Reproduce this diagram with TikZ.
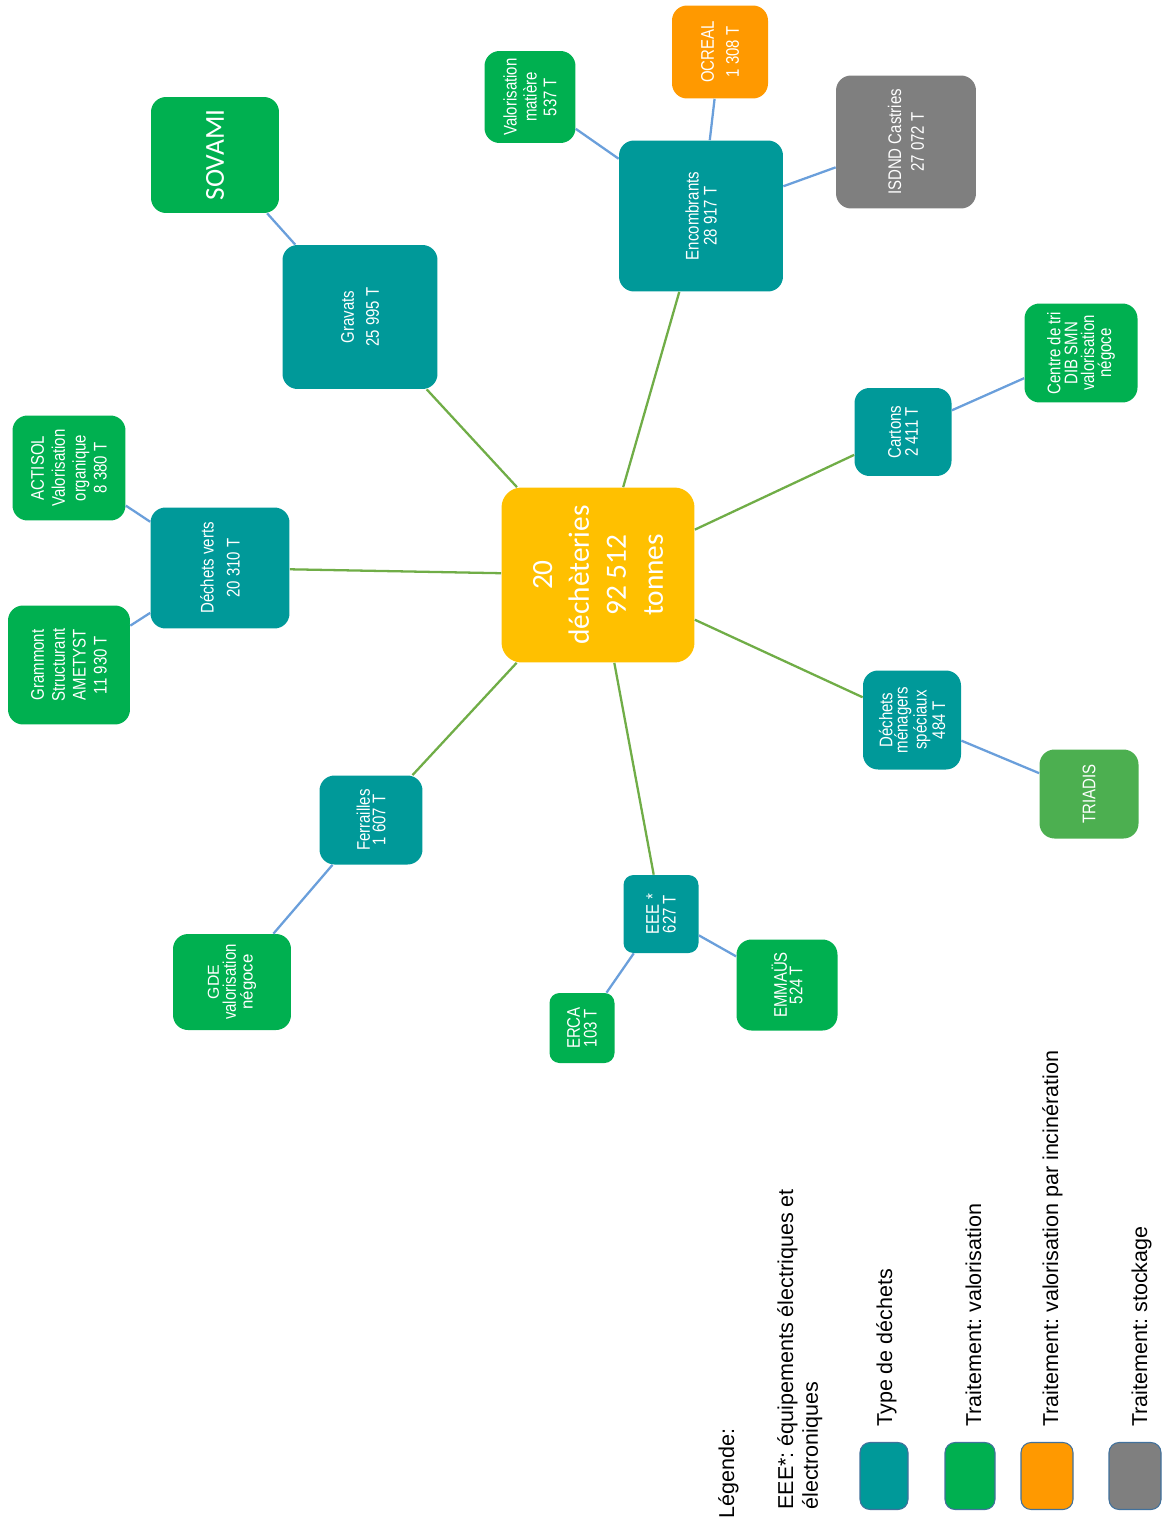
\documentclass[tikz,border=0pt]{standalone}
\usepackage{fontspec}
\setmainfont{Liberation Sans}
\newfontfamily\narrowfont[FakeStretch=0.82]{Liberation Sans}
\newfontfamily\calfont{Carlito}
\frenchspacing
\definecolor{typcol}{HTML}{009999}
\definecolor{valcol}{HTML}{00B050}
\definecolor{inccol}{HTML}{FF9900}
\definecolor{stocol}{HTML}{7F7F7F}
\definecolor{hubcol}{HTML}{FFC000}
\definecolor{tricol}{HTML}{4CAF50}
\definecolor{lienvert}{HTML}{70AD47}
\definecolor{lienbleu}{HTML}{6A9FDB}
\definecolor{bord}{HTML}{41719C}

\begin{document}
\begin{tikzpicture}[x=0.02cm, y=-0.02cm,
    every node/.style={rotate=90, text=white, align=center, inner sep=0pt},
    lsp/.style={font=\narrowfont\fontsize{10.4}{#1}\selectfont},
    typ/.style={fill=typcol, rounded corners=0.3cm, lsp=9.6},
    valo/.style={fill=valcol, rounded corners=0.3cm, lsp=9.6},
    incin/.style={fill=inccol, rounded corners=0.3cm, lsp=9.6},
    stock/.style={fill=stocol, rounded corners=0.3cm, lsp=9.6},
    vert/.style={draw=lienvert, line width=1.3pt},
    bleu/.style={draw=lienbleu, line width=1.3pt},
    carre/.style={draw=bord, line width=0.6pt, rounded corners=0.2cm, minimum width=1.34cm},
    leg/.style={text=black, font=\fontsize{12.25}{14}\selectfont, anchor=base west}]
    \useasboundingbox (0,0) rectangle (1161,1521);

    \node[fill=hubcol, rounded corners=0.4cm, font=\calfont\fontsize{16.7}{21}\selectfont,
        minimum width=3.5cm, minimum height=3.86cm] (centre) at (598,575) {20\\déchèteries\\92 512\\tonnes};

    \node[typ, lsp=10.2, minimum width=3.02cm, minimum height=3.28cm] (encomb) at (701,216) {Encombrants\\28 917 T};
    \node[valo, lsp=11.3, minimum width=1.84cm, minimum height=1.82cm] (valmat) at (530,97) {Valorisation\\matière\\537 T};
    \node[incin, lsp=14.2, minimum width=1.86cm, minimum height=1.92cm] (ocreal) at (720,52) {OCREAL\\1 308 T};
    \node[stock, lsp=13, minimum width=2.66cm, minimum height=2.8cm] (isdnd) at (906,142) {ISDND Castries\\27 072 T};

    \node[typ, lsp=14.2, minimum width=2.88cm, minimum height=3.1cm] (gravats) at (360,317) {Gravats\\25 995 T};
    \node[valo, font=\calfont\fontsize{15.6}{18}\selectfont, minimum width=2.32cm, minimum height=2.56cm] (sovami) at (215,155) {SOVAMI};

    \node[typ, lsp=14.7, minimum width=2.42cm, minimum height=2.78cm] (verts) at (220,568) {Déchets verts\\20 310 T};
    \node[valo, lsp=11.9, minimum width=2.1cm, minimum height=2.26cm] (actisol) at (69,468) {ACTISOL\\Valorisation\\organique\\8 380 T};
    \node[valo, lsp=11.9, minimum width=2.38cm, minimum height=2.44cm] (grammont) at (69,665) {Grammont\\Structurant\\AMETYST\\11 930 T};

    \node[typ, minimum width=1.76cm, minimum height=1.94cm] (cartons) at (903,432) {Cartons\\2 411 T};
    \node[valo, minimum width=1.98cm, minimum height=2.26cm] (tri) at (1081,353) {Centre de tri\\DIB SMN\\valorisation\\négoce};

    \node[typ, lsp=8.8, minimum width=1.98cm, minimum height=1.96cm] (dms) at (912,720) {Déchets\\ménagers\\spéciaux\\484 T};
    \node[fill=tricol, rounded corners=0.3cm, lsp=9.6, minimum width=1.78cm, minimum height=1.98cm] (triadis) at (1089,794) {TRIADIS};

    \node[typ, lsp=8.8, minimum width=1.78cm, minimum height=2.06cm] (ferr) at (371,820) {Ferrailles\\1 607 T};
    \node[valo, lsp=9.6, minimum width=1.92cm, minimum height=2.36cm] (gde) at (232,982)
        {{\rmfamily\fontsize{9}{9}\selectfont GDE}\\valorisation\\{\rmfamily\fontsize{9.6}{9}\selectfont négoce}};

    \node[typ, minimum width=1.56cm, minimum height=1.5cm, rounded corners=0.2cm] (eee) at (661,914) {EEE *\\627 T};
    \node[valo, minimum width=1.4cm, minimum height=1.3cm, rounded corners=0.2cm] (erca) at (582,1028) {ERCA\\103 T};
    \node[valo, lsp=8.8, minimum width=1.82cm, minimum height=2.02cm] (emmaus) at (787,985) {EMMAÜS\\524 T};

    \draw[vert] (centre) -- (encomb) (centre) -- (gravats) (centre) -- (verts) (centre) -- (cartons)
        (centre) -- (dms) (centre) -- (ferr) (centre) -- (eee);
    \draw[bleu] (encomb) -- (valmat) (encomb) -- (ocreal) (encomb) -- (isdnd) (gravats) -- (sovami)
        (verts) -- (actisol) (verts) -- (grammont) (cartons) -- (tri) (dms) -- (triadis)
        (ferr) -- (gde) (eee) -- (erca) (eee) -- (emmaus);

    \node[leg] (legende) at (734,1519) {Légende:};
    \node[leg, align=left, anchor=north west] (note) at (777,1510) {EEE*: équipements électriques et\\électroniques};
    \node[carre, fill=typcol, minimum height=0.96cm] (ctyp) at (884,1476) {};
    \node[carre, fill=valcol, minimum height=1cm] (cval) at (970,1476) {};
    \node[carre, fill=inccol, minimum height=1.04cm] (cinc) at (1047,1476) {};
    \node[carre, fill=stocol, minimum height=1.04cm] (csto) at (1135,1476) {};
    \node[leg] (ttyp) at (892,1427) {Type de déchets};
    \node[leg] (tval) at (981,1427) {Traitement: valorisation};
    \node[leg] (tinc) at (1058,1427) {Traitement: valorisation par incinération};
    \node[leg] (tsto) at (1147,1427) {Traitement: stockage};
\end{tikzpicture}
\end{document}
